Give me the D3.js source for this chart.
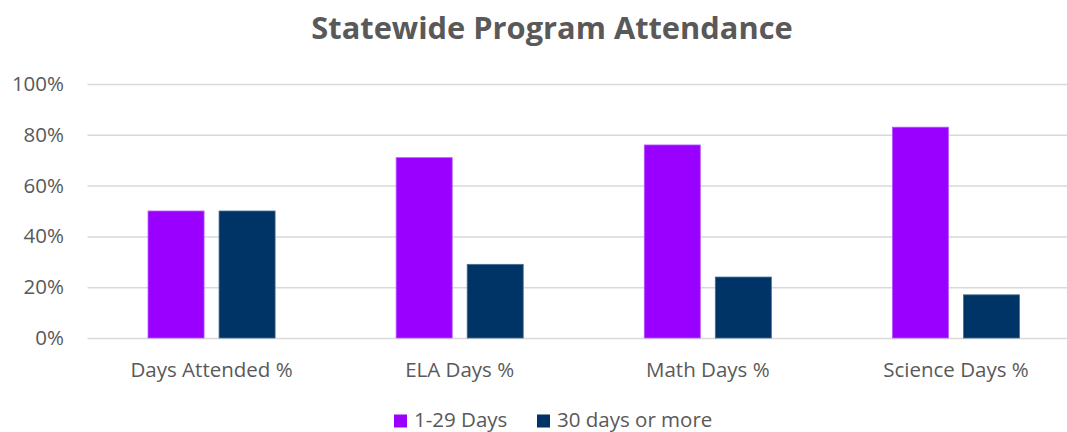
<!DOCTYPE html>
<html>
<head>
<meta charset="utf-8">
<script src="https://cdn.jsdelivr.net/npm/d3@7"></script>
<style>
  html, body { margin: 0; padding: 0; background: #fff; }
  svg { display: block; }
  text { font-family: "Open Sans", "Noto Sans", sans-serif; fill: #595959; }
</style>
</head>
<body>
<svg id="chart" width="1067" height="432"></svg>
<script>
const title = "Statewide Program Attendance";
const categories = ["Days Attended %", "ELA Days %", "Math Days %", "Science Days %"];
const seriesNames = ["1-29 Days", "30 days or more"];
const series1 = [50, 71, 76, 83];
const series2 = [50, 29, 24, 17];
const yTicks = [0, 20, 40, 60, 80, 100];
const colors = ["#9900ff", "#003366"];

const svg = d3.select("#chart");
const margin = { left: 87.5, right: -13, top: 84, bottom: 94 };
const W = 1067, H = 432;
const plotRight = W - margin.right;
const plotBottom = H - margin.bottom;
const fs = "20.5px";

const x0 = d3.scaleBand().domain(categories).range([margin.left, plotRight]).paddingInner(0).paddingOuter(0);
const innerStep = x0.bandwidth();
const x1 = d3.scaleBand().domain(seriesNames).range([0, innerStep]).paddingInner(0.211).paddingOuter(0.852);
const y = d3.scaleLinear().domain([0, 100]).range([plotBottom, margin.top]);

// gridlines + y tick labels
const yAxis = d3.axisLeft(y).tickValues(yTicks).tickFormat(d => d + "%").tickSize(-(plotRight - margin.left)).tickPadding(23.5);
const gy = svg.append("g").attr("transform", `translate(${margin.left},0)`).call(yAxis);
gy.select(".domain").remove();
gy.selectAll(".tick line").attr("stroke", "#d9d9d9").attr("stroke-width", 1.5);
gy.selectAll(".tick text").style("font-size", fs).attr("fill", "#595959");

// bars
const data = categories.map((c, i) => ({ cat: c, vals: [series1[i], series2[i]] }));
const groups = svg.append("g").selectAll("g").data(data).join("g")
  .attr("transform", d => `translate(${x0(d.cat)},0)`);
groups.selectAll("rect").data(d => d.vals.map((v, j) => ({ name: seriesNames[j], v, j })))
  .join("rect")
  .attr("x", d => x1(d.name))
  .attr("width", x1.bandwidth())
  .attr("y", d => y(d.v))
  .attr("height", d => y(0) - y(d.v))
  .attr("fill", d => colors[d.j])
  .attr("stroke", d => d.j === 0 ? "#b45cff" : "#4a6f96")
  .attr("stroke-width", 0.8);

// x axis labels
const xAxis = d3.axisBottom(x0).tickSize(0).tickPadding(24.4);
const gx = svg.append("g").attr("transform", `translate(0,${plotBottom})`).call(xAxis);
gx.select(".domain").remove();
gx.selectAll(".tick text").style("font-size", fs).attr("fill", "#595959");

// title
svg.append("text").attr("x", 552).attr("y", 38.5).attr("text-anchor", "middle")
  .style("font-size", "30.8px").style("font-weight", "bold").attr("fill", "#595959").text(title);

// legend
const legendItems = [{ name: seriesNames[0], x: 394 }, { name: seriesNames[1], x: 537 }];
const lg = svg.append("g").selectAll("g").data(legendItems).join("g")
  .attr("transform", d => `translate(${d.x},414.5)`);
lg.append("rect").attr("width", 13).attr("height", 13).attr("fill", (d, i) => colors[i]);
lg.append("text").attr("x", 20).attr("y", 12.3).style("font-size", fs).text(d => d.name);
</script>
</body>
</html>
